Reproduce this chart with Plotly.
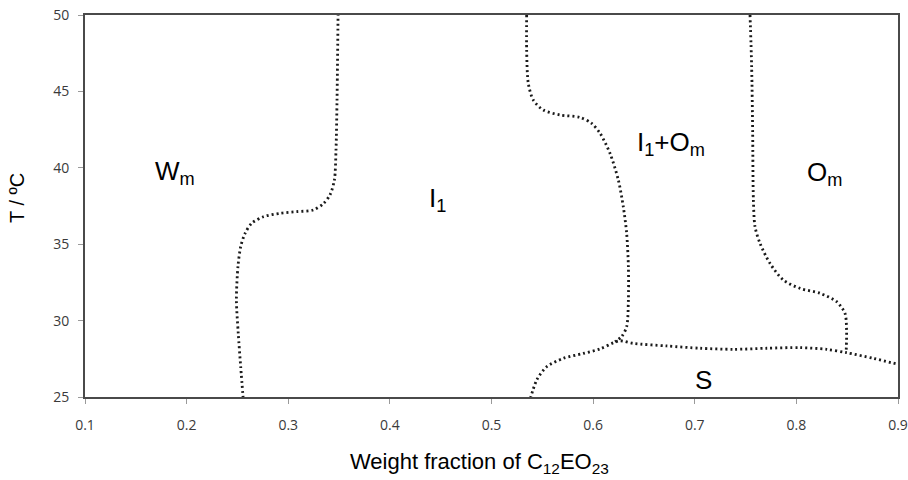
import plotly.graph_objects as go

# ---- data ----
x_ticks = [0.1, 0.2, 0.3, 0.4, 0.5, 0.6, 0.7, 0.8, 0.9]
x_ticktext = ["0.1", "0.2", "0.3", "0.4", "0.5", "0.6", "0.7", "0.8", "0.9"]
y_ticks = [25, 30, 35, 40, 45, 50]
y_ticktext = ["25", "30", "35", "40", "45", "50"]

# Wm | I1 boundary
b1_x = [0.256, 0.2532, 0.2508, 0.249, 0.2505, 0.2532, 0.2575, 0.264, 0.2755,
        0.2919, 0.3083, 0.3247, 0.3345, 0.341, 0.3454, 0.347, 0.348, 0.349]
b1_T = [24.6, 26.98, 29.17, 31.35, 33.53, 34.84, 35.71, 36.37, 36.8,
        37.02, 37.13, 37.24, 37.65, 38.22, 39.2, 41.17, 44.44, 50]

# I1 | I1+Om boundary
b2_x = [0.5346, 0.5346, 0.5362, 0.5411, 0.551, 0.5674, 0.587, 0.5985, 0.6068,
        0.6166, 0.6248, 0.6297, 0.633, 0.6347, 0.6347, 0.633, 0.628, 0.6215]
b2_T = [50, 47.71, 45.53, 44.44, 43.78, 43.46, 43.3, 42.91, 42.26,
        40.95, 39.2, 37.45, 35.71, 33.53, 31.35, 29.6, 28.95, 28.62]

# S boundary (lower)
b3_x = [0.537, 0.5445, 0.5543, 0.5707, 0.5903, 0.6068, 0.62, 0.6265, 0.6396,
        0.6724, 0.7052, 0.738, 0.7708, 0.8036, 0.8298, 0.8494, 0.8757, 0.9]
b3_T = [24.6, 26.11, 26.98, 27.53, 27.85, 28.15, 28.55, 28.68, 28.51,
        28.34, 28.19, 28.12, 28.19, 28.23, 28.12, 27.9, 27.53, 27.14]

# I1+Om | Om boundary
b4_x = [0.7544, 0.756, 0.757, 0.7577, 0.7593, 0.7642, 0.774, 0.7871, 0.8036,
        0.8232, 0.8396, 0.8478, 0.8494, 0.849]
b4_T = [50, 46.6, 42.26, 37.9, 36.15, 35.06, 33.75, 32.66, 32.11,
        31.79, 31.24, 30.48, 29.38, 27.95]

labels = ["W<sub>m</sub>", "I<sub>1</sub>", "I<sub>1</sub>+O<sub>m</sub>", "O<sub>m</sub>", "S"]
label_x = [0.1886, 0.447, 0.677, 0.828, 0.7085]
label_T = [39.7, 37.9, 41.6, 39.6, 26.1]

# ---- figure ----
fig = go.Figure()
line_style = dict(color="#1a1a1a", width=2.8, dash="2px,3px", shape="spline", smoothing=0.8)
for bx, bT in [(b1_x, b1_T), (b2_x, b2_T), (b3_x, b3_T), (b4_x, b4_T)]:
    fig.add_trace(go.Scatter(x=bx, y=bT, mode="lines", line=line_style,
                             showlegend=False, hoverinfo="skip"))

for t, lx, ly in zip(labels, label_x, label_T):
    fig.add_annotation(x=lx, y=ly, text=t, showarrow=False,
                       font=dict(family="Liberation Sans, Arial", size=26, color="#000"),
                       xanchor="center", yanchor="middle")

# axis titles
fig.add_annotation(x=0.5, y=0, xref="paper", yref="paper", yshift=-66, xshift=-12,
                   text="Weight fraction of C<sub>12</sub>EO<sub>23</sub>", showarrow=False,
                   font=dict(family="Liberation Sans, Arial", size=22, color="#000"),
                   xanchor="center", yanchor="middle")
fig.add_annotation(x=0, y=0.5, xref="paper", yref="paper", xshift=-68, yshift=8,
                   text="T / ºC", showarrow=False, textangle=-90,
                   font=dict(family="Liberation Sans, Arial", size=20, color="#000"),
                   xanchor="center", yanchor="middle")

axis_common = dict(showgrid=False, zeroline=False, showline=True, linecolor="#4a4a4a",
                   linewidth=2, mirror=True, ticks="outside", ticklen=5, tickwidth=1,
                   tickcolor="#9a9a9a",
                   tickfont=dict(family="Open Sans, Liberation Sans", size=14, color="#3a3a3a"))

fig.update_xaxes(range=[0.1, 0.9], tickvals=x_ticks, ticktext=x_ticktext,
                 ticklabelstandoff=9, automargin=False, **axis_common)
fig.update_yaxes(range=[25, 50], tickvals=y_ticks, ticktext=y_ticktext,
                 ticklabelstandoff=6, automargin=False, **axis_common)

fig.update_layout(width=908, height=480, margin=dict(l=85, r=10, t=15, b=83),
                  paper_bgcolor="white", plot_bgcolor="white")

post = ("document.body.style.margin='0';document.body.style.overflow='hidden';"
        "var d=document.getElementById('{plot_id}');d.style.position='absolute';"
        "d.style.left='0px';d.style.top='0px';")
fig.write_html("out.html", post_script=post, config={"displayModeBar": False})
